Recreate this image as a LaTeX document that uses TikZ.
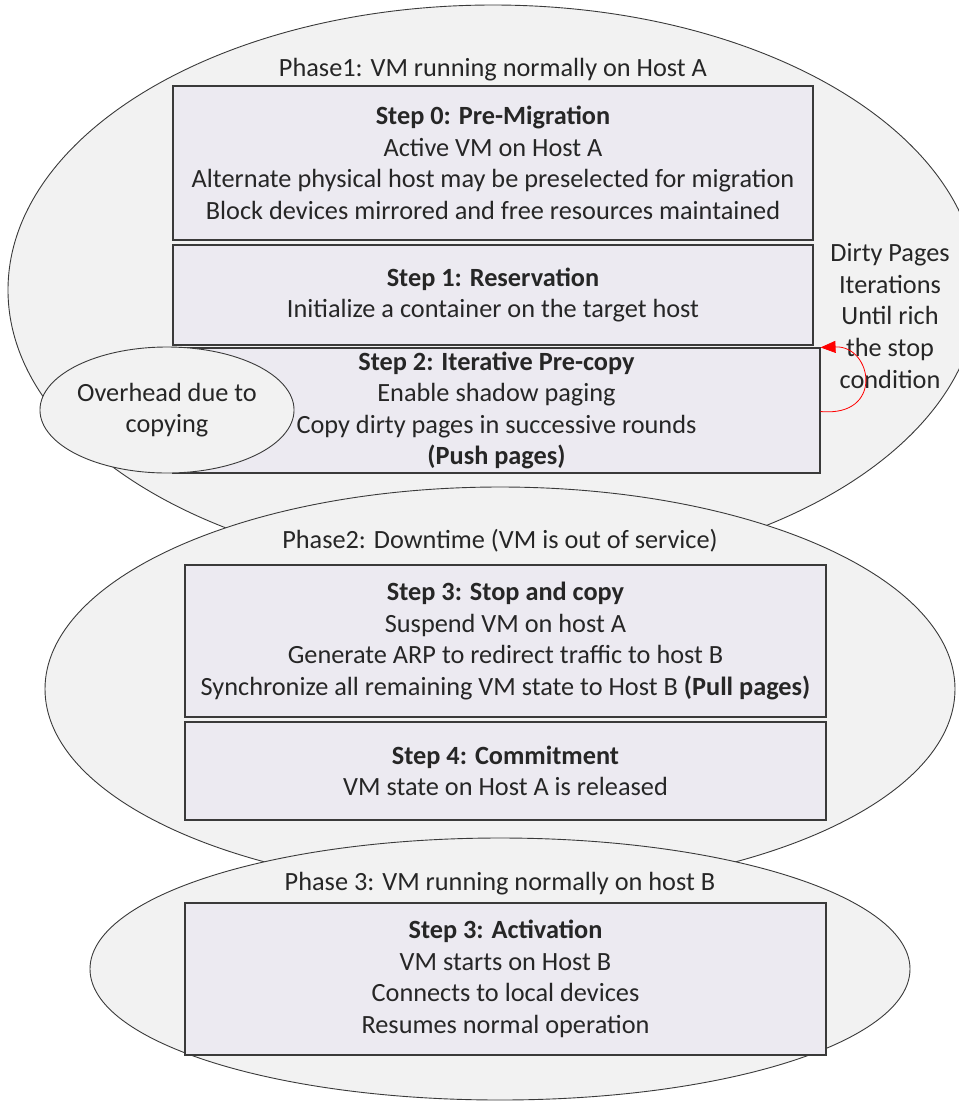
\documentclass[tikz,border=0pt]{standalone}
\usepackage{fontspec}
\setmainfont{Carlito}
\usetikzlibrary{shapes.geometric,arrows.meta}
\definecolor{phasefill}{HTML}{F2F2F2}
\definecolor{stepfill}{HTML}{ECEAF1}
\definecolor{edge}{HTML}{3A3A3A}
\begin{document}
\begin{tikzpicture}[x=1pt,y=-1pt,
  every node/.style={font=\fontsize{26.3}{31.6}\selectfont, text=black!85},
  phase/.style={ellipse, draw=edge, line width=0.9pt, fill=phasefill, inner sep=0pt},
  stepbox/.style={rectangle, draw=edge, line width=1.1pt, fill=stepfill, inner sep=0pt, align=center},
  plain/.style={inner sep=0pt, align=center}]
\useasboundingbox (0,0) rectangle (959,1104);
% phase ellipses, each later one drawn over the one above it
\node[phase, minimum width=970pt, minimum height=570pt] (ph1) at (493,290) {};
\node[phase, minimum width=910pt, minimum height=404pt] (ph2) at (500,689) {};
\node[phase, minimum width=820pt, minimum height=262pt] (ph3) at (500,969) {};
% phase titles
\node[plain] (ph1t) at (493,70) {Phase1: VM running normally on Host A};
\node[plain] (ph2t) at (500,541) {Phase2: Downtime (VM is out of service)};
\node[plain] (ph3t) at (500,884) {Phase 3: VM running normally on host B};
% steps
\node[stepbox, minimum width=640pt, minimum height=154pt] (s0) at (493,163)
  {\textbf{Step 0: Pre-Migration}\\Active VM on Host A\\Alternate physical host may be preselected for migration\\Block devices mirrored and free resources maintained};
\node[stepbox, minimum width=640pt, minimum height=100pt] (s1) at (493,295)
  {\textbf{Step 1: Reservation}\\Initialize a container on the target host};
\node[stepbox, minimum width=647pt, minimum height=125pt] (s2) at (496.5,410.5)
  {\textbf{Step 2: Iterative Pre-copy}\\Enable shadow paging\\Copy dirty pages in successive rounds\\\textbf{(Push pages)}};
\node[stepbox, minimum width=641pt, minimum height=152pt] (s3) at (505.5,641)
  {\textbf{Step 3: Stop and copy}\\Suspend VM on host A\\Generate ARP to redirect traffic to host B\\Synchronize all remaining VM state to Host B \textbf{(Pull pages)}};
\node[stepbox, minimum width=641pt, minimum height=98pt] (s4) at (505.5,771)
  {\textbf{Step 4: Commitment}\\VM state on Host A is released};
\node[stepbox, minimum width=641pt, minimum height=152pt] (s5) at (505.5,979)
  {\textbf{Step 3: Activation}\\VM starts on Host B\\Connects to local devices\\Resumes normal operation};
% side notes
\node[phase, minimum width=238pt, minimum height=126pt, align=center] (ovh) at (167,410)
  {Overhead due to\\copying};
\node[plain] (dirty) at (890,316) {Dirty Pages\\Iterations\\Until rich\\the stop\\condition};
% iteration loop
\draw[red, line width=0.8pt, -{Triangle[length=15pt,width=12pt]}]
  ([yshift=-1pt]s2.east) .. controls +(64,6) and +(52,-2) .. (s2.north east);
\end{tikzpicture}
\end{document}
